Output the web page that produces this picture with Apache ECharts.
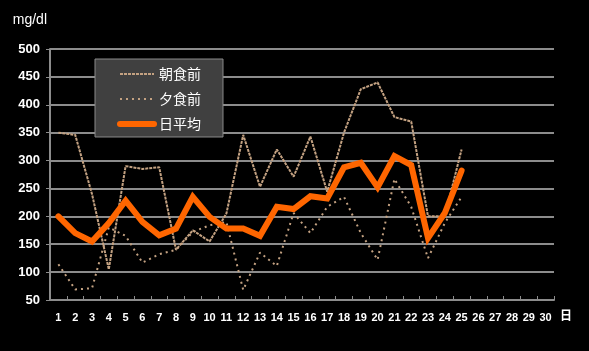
<!DOCTYPE html>
<html>
<head>
<meta charset="utf-8">
<script src="https://cdn.jsdelivr.net/npm/echarts@6/dist/echarts.min.js"></script>
<style>
  html, body { margin: 0; padding: 0; background: #000; }
  #chart { width: 589px; height: 351px; }
</style>
</head>
<body>
<div id="chart"></div>
<script>
// 横坐标 (日)
const days = []
for (let d = 1; d <= 30; d++) days.push(String(d))
// 数据 (mg/dl)
const morning = [350, 346, 240, 105, 290, 285, 288, 140, 175, 155, 205, 346, 253, 320, 271, 343, 244, 350, 428, 440, 378, 370, 200, 200, 320]
const evening = [114, 69, 71, 180, 165, 117, 132, 140, 172, 184, 190, 68, 135, 111, 206, 170, 217, 235, 170, 122, 267, 217, 125, 188, 235]
const average = [200, 170, 155, 188, 228, 190, 166, 178, 235, 199, 178, 178, 165, 217, 213, 236, 232, 288, 296, 252, 308, 292, 161, 206, 282]
const names = ['朝食前', '夕食前', '日平均']

const font = '"Liberation Sans", Arial, "Noto Sans CJK JP", sans-serif'
const tan = '#c4a282'
const gridGray = '#8c8c8c'

const chart = echarts.init(document.getElementById('chart'))
const option = {
  backgroundColor: '#000',
  animation: false,
  textStyle: { fontFamily: font },
  legend: {
    orient: 'vertical',
    left: 95,
    top: 59,
    padding: [8, 22, 6, 22],
    itemGap: 11,
    itemWidth: 34,
    itemHeight: 14,
    itemTextGap: 2,
    backgroundColor: '#404040',
    borderColor: '#8a8a8a',
    borderWidth: 1,
    itemStyle: { opacity: 0 }, // 隐藏图例里的圆点
    lineStyle: { width: 'inherit' }, // 线宽跟随系列
    textStyle: { color: '#fff', fontSize: 14, fontFamily: '"Noto Sans CJK JP", sans-serif' },
    data: names
  },
  grid: {
    left: 50,
    right: 35,
    top: 49,
    bottom: 51
  },
  xAxis: {
    type: 'category',
    data: days,
    boundaryGap: true,
    name: '日',
    nameLocation: 'end',
    nameGap: 6,
    nameTextStyle: { color: '#fff', fontSize: 12, fontWeight: 'bold', verticalAlign: 'top', padding: [11, 0, 0, 0] },
    axisLine: { lineStyle: { color: gridGray, width: 2 } },
    axisTick: { show: true, inside: true, length: 4, lineStyle: { color: gridGray } },
    axisLabel: { color: '#fff', fontSize: 11, fontWeight: 'bold', margin: 12, interval: 0 },
    splitLine: { show: false }
  },
  yAxis: {
    type: 'value',
    min: 50,
    max: 500,
    interval: 50,
    name: 'mg/dl',
    nameGap: 22,
    nameTextStyle: { color: '#fff', fontSize: 14, align: 'right', padding: [0, 3, 0, 0] },
    axisLine: { show: true, lineStyle: { color: gridGray, width: 2 } },
    axisTick: { show: true, length: 4, lineStyle: { color: gridGray } },
    axisLabel: { color: '#fff', fontSize: 13, fontWeight: 'bold', margin: 10 },
    splitLine: { lineStyle: { color: gridGray, width: 2 } }
  },
  series: [
    {
      name: names[0],
      type: 'line',
      data: morning,
      symbol: 'none',
      lineStyle: { color: tan, width: 2, type: [3, 1] },
      itemStyle: { color: tan },
      z: 2
    },
    {
      name: names[1],
      type: 'line',
      data: evening,
      symbol: 'none',
      lineStyle: { color: tan, width: 2, type: [2, 4] },
      itemStyle: { color: tan },
      z: 2
    },
    {
      name: names[2],
      type: 'line',
      data: average,
      symbol: 'none',
      lineStyle: { color: '#ff6600', width: 6, cap: 'round', join: 'miter' },
      itemStyle: { color: '#ff6600' },
      z: 3
    }
  ]
}
chart.setOption(option)
window.addEventListener('resize', () => chart.resize())
</script>
</body>
</html>
